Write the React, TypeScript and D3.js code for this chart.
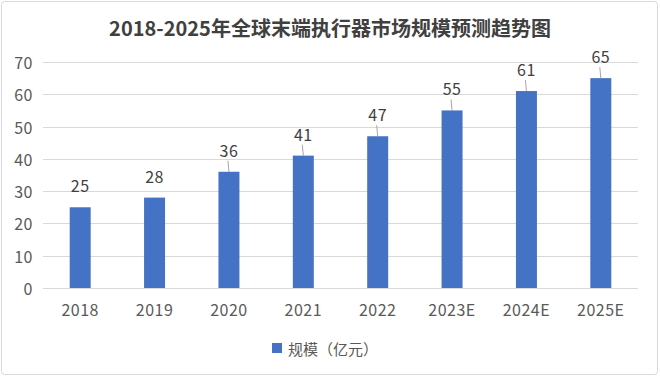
import React from "react";
import * as d3 from "d3";

const title = "2018-2025年全球末端执行器市场规模预测趋势图";
const categories = ["2018", "2019", "2020", "2021", "2022", "2023E", "2024E", "2025E"];
const values = [25, 28, 36, 41, 47, 55, 61, 65];
const yTicks = [0, 10, 20, 30, 40, 50, 60, 70];
const seriesName = "规模（亿元）";

const W = 660;
const H = 376;
const FONT = "'Noto Sans CJK SC', 'Noto Sans', sans-serif";

export default function App() {
  const x = d3
    .scaleBand<string>()
    .domain(categories)
    .range([43, 638])
    .paddingInner(0.718)
    .paddingOuter(0.359);
  const y = d3.scaleLinear().domain([0, 70]).range([288, 62]);
  const lift = 22;

  return (
    <svg
      width={W}
      height={H}
      style={{ position: "absolute", left: 0, top: 0, background: "#fff" }}
      fontFamily={FONT}
    >
      <rect x={1.5} y={1.5} width={656} height={373} rx={3} fill="#fff" stroke="#d9d9d9" />
      <text x={330} y={27} textAnchor="middle" dominantBaseline="central" fontSize={20} fontWeight="bold" fill="#404040">
        {title}
      </text>
      {yTicks.map((t) => (
        <g key={t}>
          <line x1={43} x2={638} y1={Math.round(y(t)) + 0.5} y2={Math.round(y(t)) + 0.5} stroke="#d9d9d9" strokeWidth={1} />
          <text x={33} y={y(t)} textAnchor="end" dominantBaseline="central" fontSize={16} fill="#595959" letterSpacing={0.5}>
            {t}
          </text>
        </g>
      ))}
      {categories.map((c, i) => {
        const cx = (x(c) as number) + x.bandwidth() / 2;
        const top = y(values[i]);
        const ly = top - lift;
        return (
          <g key={c}>
            <rect x={x(c)} y={top} width={x.bandwidth()} height={y(0) - top} fill="#4472C4" />
            {values[i] >= 36 && (
              <line x1={cx - 1} y1={ly + 11} x2={cx} y2={top} stroke="#a6a6a6" strokeWidth={1} />
            )}
            <text x={cx} y={ly} textAnchor="middle" dominantBaseline="central" fontSize={16} fill="#404040" letterSpacing={0.5}>
              {values[i]}
            </text>
            <text x={cx} y={309} textAnchor="middle" dominantBaseline="central" fontSize={16} fill="#595959" letterSpacing={0.5}>
              {c}
            </text>
          </g>
        );
      })}
      <rect x={272} y={343} width={10} height={10} fill="#4472C4" />
      <text x={288} y={348} dominantBaseline="central" fontSize={15} fill="#595959">
        {seriesName}
      </text>
    </svg>
  );
}
